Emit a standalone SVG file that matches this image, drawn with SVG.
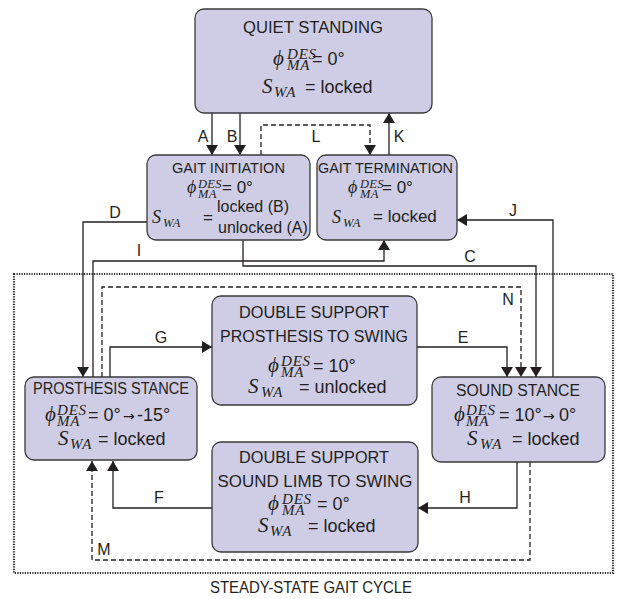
<svg xmlns="http://www.w3.org/2000/svg" width="622" height="599" viewBox="0 0 622 599">
  <defs>
    <marker id="ah" viewBox="0 0 10 12" refX="10" refY="6" markerWidth="10" markerHeight="12" markerUnits="userSpaceOnUse" orient="auto">
      <path d="M0,0 L10,6 L0,12 z" fill="#231f20" stroke="none"/>
    </marker>
    <style>
      .box { fill: #cfcde6; stroke: #3a3a3a; stroke-width: 1.3; }
      .t { font-family: "Liberation Sans", Arial, sans-serif; font-size: 16px; fill: #231f20; text-anchor: middle; }
      .ts { font-size: 14px; }
      .m { font-family: "Liberation Serif", "DejaVu Serif", serif; font-style: italic; font-size: 21px; fill: #231f20; }
      .s { font-size: 15px; letter-spacing: 0.8px; }
      .v { font-family: "Liberation Sans", Arial, sans-serif; font-style: normal; font-size: 18px; letter-spacing: 0; }
      .ar { font-family: "DejaVu Sans", sans-serif; font-style: normal; font-size: 14px; }
      .sm .m { font-size: 18px; }
      .sm .s { font-size: 12.5px; letter-spacing: 0.3px; }
      .sm .v { font-size: 17px; }
      .lbl { font-family: "Liberation Sans", Arial, sans-serif; font-size: 16px; fill: #231f20; text-anchor: middle; }
      .c { fill: none; stroke: #231f20; stroke-width: 1.3; }
      .arr { marker-end: url(#ah); }
      .dash { stroke-dasharray: 5 3; }
      .dot { fill: none; stroke: #2a2a2a; stroke-width: 2.2; stroke-dasharray: 1.2 1.3; }
    </style>
  </defs>

  <!-- steady-state cycle boundary -->
  <rect class="dot" x="14" y="274" width="599" height="299"/>
  <text class="t" x="311" y="593" textLength="202" lengthAdjust="spacingAndGlyphs">STEADY-STATE GAIT CYCLE</text>

  <!-- transitions -->
  <g id="connectors">
    <path class="c arr" d="M212,113 V155"/>
    <path class="c arr" d="M240,113 V155"/>
    <path class="c arr" d="M389,155 V113"/>
    <path class="c arr dash" d="M261,155 V125 H370 V155"/>
    <path class="c arr" d="M147,222 H83 V377"/>
    <path class="c arr" d="M93,377 V261 H384 V240"/>
    <path class="c arr" d="M243,240 V266 H536 V377"/>
    <path class="c arr" d="M553,377 V220 H457"/>
    <path class="c arr dash" d="M102,377 V287 H521 V377"/>
    <path class="c arr" d="M110,377 V347 H212"/>
    <path class="c arr" d="M417,347 H507 V377"/>
    <path class="c arr" d="M212,508 H113 V461"/>
    <path class="c arr" d="M517,462 V508 H418"/>
    <path class="c arr dash" d="M530,462 V560 H92 V461"/>

    <text class="lbl" x="203" y="142">A</text>
    <text class="lbl" x="232" y="142">B</text>
    <text class="lbl" x="316" y="142">L</text>
    <text class="lbl" x="399" y="142">K</text>
    <text class="lbl" x="115" y="218">D</text>
    <text class="lbl" x="139" y="256">I</text>
    <text class="lbl" x="470" y="262">C</text>
    <text class="lbl" x="513" y="216">J</text>
    <text class="lbl" x="508" y="305">N</text>
    <text class="lbl" x="161" y="343">G</text>
    <text class="lbl" x="463" y="343">E</text>
    <text class="lbl" x="159" y="503">F</text>
    <text class="lbl" x="465" y="503">H</text>
    <text class="lbl" x="104" y="555">M</text>
  </g>

  <!-- states -->
  <g id="quiet-standing">
    <rect class="box" x="195" y="9" width="237" height="104" rx="9"/>
    <text class="t" x="313" y="33" textLength="140" lengthAdjust="spacingAndGlyphs">QUIET STANDING</text>
    <text class="m" x="273" y="65">ϕ<tspan class="s" x="287" y="59">DES</tspan><tspan class="s" x="287" y="70">MA</tspan><tspan class="v" x="312" y="65">= 0°</tspan></text>
    <text class="m" x="262" y="93">S<tspan class="s" x="274" y="97">WA</tspan><tspan class="v" x="305" y="93">= locked</tspan></text>
  </g>

  <g id="gait-initiation" class="sm">
    <rect class="box" x="147" y="155" width="163" height="85" rx="9"/>
    <text class="t ts" x="228.5" y="173" textLength="113" lengthAdjust="spacingAndGlyphs">GAIT INITIATION</text>
    <text class="m" x="187" y="193">ϕ<tspan class="s" x="198" y="188">DES</tspan><tspan class="s" x="198" y="198">MA</tspan><tspan class="v" x="222" y="193">= 0°</tspan></text>
    <text class="m" x="152" y="223">S<tspan class="s" x="163" y="227">WA</tspan><tspan class="v" x="203" y="223">=</tspan><tspan class="v" x="217" y="212" style="font-size:16px">locked (B)</tspan><tspan class="v" x="218" y="233" style="font-size:16px">unlocked (A)</tspan></text>
  </g>

  <g id="gait-termination" class="sm">
    <rect class="box" x="317" y="155" width="140" height="85" rx="9"/>
    <text class="t ts" x="385.5" y="173" textLength="135" lengthAdjust="spacingAndGlyphs">GAIT TERMINATION</text>
    <text class="m" x="348" y="193">ϕ<tspan class="s" x="360" y="188">DES</tspan><tspan class="s" x="360" y="198">MA</tspan><tspan class="v" x="382" y="193">= 0°</tspan></text>
    <text class="m" x="332" y="223">S<tspan class="s" x="343" y="227">WA</tspan><tspan class="v" x="373" y="222">= locked</tspan></text>
  </g>

  <g id="double-support-prosthesis-to-swing">
    <rect class="box" x="212" y="296" width="205" height="109" rx="9"/>
    <text class="t" x="314" y="318" textLength="150" lengthAdjust="spacingAndGlyphs">DOUBLE SUPPORT</text>
    <text class="t" x="314" y="342" textLength="188" lengthAdjust="spacingAndGlyphs">PROSTHESIS TO SWING</text>
    <text class="m" x="268" y="372">ϕ<tspan class="s" x="281" y="366">DES</tspan><tspan class="s" x="281" y="377">MA</tspan><tspan class="v" x="313" y="372">= 10°</tspan></text>
    <text class="m" x="248" y="393">S<tspan class="s" x="261" y="397">WA</tspan><tspan class="v" x="299" y="393">= unlocked</tspan></text>
  </g>

  <g id="prosthesis-stance">
    <rect class="box" x="25" y="377" width="172" height="83" rx="9"/>
    <text class="t" x="111" y="394" textLength="156" lengthAdjust="spacingAndGlyphs">PROSTHESIS STANCE</text>
    <text class="m" x="45" y="421">ϕ<tspan class="s" x="57" y="415">DES</tspan><tspan class="s" x="57" y="426">MA</tspan><tspan class="v" x="88" y="421">= 0°</tspan><tspan class="ar" x="123" y="421">→</tspan><tspan class="v" x="137" y="421">-15°</tspan></text>
    <text class="m" x="58" y="445">S<tspan class="s" x="70" y="449">WA</tspan><tspan class="v" x="98" y="445">= locked</tspan></text>
  </g>

  <g id="sound-stance">
    <rect class="box" x="432" y="377" width="173" height="85" rx="9"/>
    <text class="t" x="518" y="396" textLength="124" lengthAdjust="spacingAndGlyphs">SOUND STANCE</text>
    <text class="m" x="454" y="421">ϕ<tspan class="s" x="466" y="415">DES</tspan><tspan class="s" x="466" y="426">MA</tspan><tspan class="v" x="499" y="421">= 10°</tspan><tspan class="ar" x="543" y="421">→</tspan><tspan class="v" x="559" y="421">0°</tspan></text>
    <text class="m" x="467" y="445">S<tspan class="s" x="480" y="449">WA</tspan><tspan class="v" x="512" y="445">= locked</tspan></text>
  </g>

  <g id="double-support-sound-limb-to-swing">
    <rect class="box" x="212" y="442" width="206" height="110" rx="9"/>
    <text class="t" x="314" y="463" textLength="150" lengthAdjust="spacingAndGlyphs">DOUBLE SUPPORT</text>
    <text class="t" x="315" y="487" textLength="195" lengthAdjust="spacingAndGlyphs">SOUND LIMB TO SWING</text>
    <text class="m" x="268" y="510">ϕ<tspan class="s" x="282" y="504">DES</tspan><tspan class="s" x="282" y="515">MA</tspan><tspan class="v" x="317" y="510">= 0°</tspan></text>
    <text class="m" x="258" y="532">S<tspan class="s" x="270" y="536">WA</tspan><tspan class="v" x="308" y="532">= locked</tspan></text>
  </g>
</svg>
